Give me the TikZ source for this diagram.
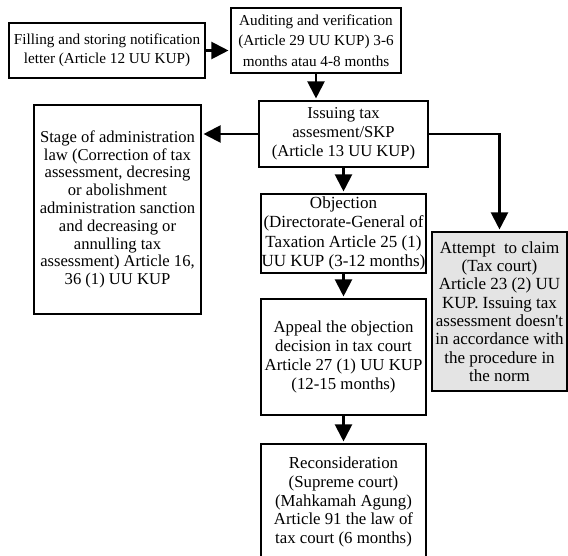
\documentclass[tikz,border=0pt]{standalone}
\usepackage{fontspec}
\setmainfont{Liberation Serif}[Ligatures=TeXOff]
\usetikzlibrary{arrows.meta}
\definecolor{boxgray}{HTML}{E4E4E4}
\begin{document}
\begin{tikzpicture}[x=1pt,y=-1pt,
  box/.style={draw=black,line width=2.1pt,align=center,inner sep=0pt,
    font=\fontsize{16.7}{18.9}\selectfont},
  conn/.style={line width=2.1pt,shorten >=1.5pt,-{Triangle[width=17pt,length=17pt]}}]
\useasboundingbox (0,0) rectangle (568,556);
\clip (0,0) rectangle (568,556);
\node[box,minimum width=196pt,minimum height=55pt,
  font=\fontsize{15.2}{19.5}\selectfont] (fill) at (107,50.5)
  {Filling and storing notification\\letter (Article 12 UU KUP)};
\node[box,minimum width=170pt,minimum height=65pt,
  font=\fontsize{15.2}{20.5}\selectfont] (audit) at (316,40.5)
  {Auditing and verification\\(Article 29 UU KUP) 3-6\\months atau 4-8 months};
\node[box,minimum width=169pt,minimum height=66pt,
  font=\fontsize{16.6}{19}\selectfont] (issue) at (343.5,134)
  {Issuing tax\\assesment/SKP\\(Article 13 UU KUP)};
\node[box,minimum width=167pt,minimum height=209pt,
  font=\fontsize{16.6}{17.8}\selectfont] (stage) at (117.5,209.5)
  {Stage of administration\\law (Correction of tax\\assessment, decresing\\or abolishment\\administration sanction\\and decreasing or\\annulling tax\\assessment) Article 16,\\36 (1) UU KUP};
\node[box,minimum width=165pt,minimum height=79pt,
  font=\fontsize{17}{19.6}\selectfont] (obj) at (343.5,233.5)
  {Objection\\(Directorate-General of\\Taxation Article 25 (1)\\UU KUP (3-12 months)};
\node[box,fill=boxgray,minimum width=135pt,minimum height=159pt,
  font=\fontsize{17}{18.3}\selectfont] (attempt) at (499.5,311.5)
  {Attempt\ \ to claim\\(Tax court)\\Article 23 (2) UU\\KUP. Issuing tax\\assessment doesn't\\in accordance with\\the procedure in\\the norm};
\node[box,minimum width=165pt,minimum height=116pt,
  font=\fontsize{16.8}{19}\selectfont] (appeal) at (343.5,357)
  {Appeal the objection\\decision in tax court\\Article 27 (1) UU KUP\\(12-15 months)};
\node[box,minimum width=165pt,minimum height=116pt,
  font=\fontsize{16.8}{18.8}\selectfont] (recon) at (343.5,502)
  {Reconsideration\\(Supreme court)\\(Mahkamah Agung)\\Article 91 the law of\\tax court (6 months)};
\draw[conn] (fill.east) -- (audit.west |- fill.east);
\draw[conn] (audit.south) -- (audit.south |- issue.north);
\draw[conn] (issue.west) -- (stage.east |- issue.west);
\draw[conn] (issue.south) -- (obj.north);
\draw[conn] (issue.east) -| (attempt.north);
\draw[conn] (obj.south) -- (appeal.north);
\draw[conn] (appeal.south) -- (recon.north);
\end{tikzpicture}
\end{document}
